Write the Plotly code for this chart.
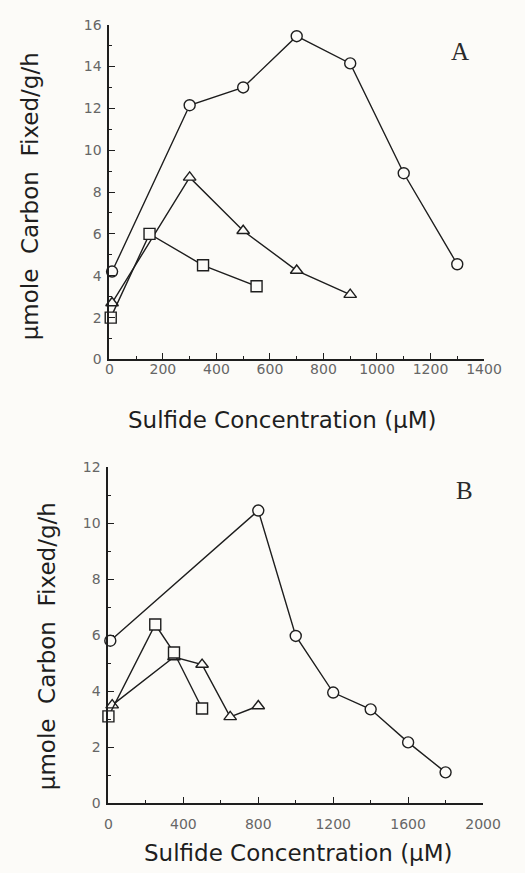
import plotly.graph_objects as go

W, H = 525, 873

# ---------------- Panel A data ----------------
a_circle_x = [10, 300, 500, 700, 900, 1100, 1300]
a_circle_y = [4.2, 12.15, 13.0, 15.45, 14.15, 8.9, 4.55]
a_tri_x = [10, 300, 500, 700, 900]
a_tri_y = [2.7, 8.7, 6.15, 4.25, 3.1]
a_sq_x = [5, 150, 350, 550]
a_sq_y = [2.0, 6.0, 4.5, 3.5]

# ---------------- Panel B data ----------------
b_circle_x = [10, 800, 1000, 1200, 1400, 1600, 1800]
b_circle_y = [5.8, 10.45, 5.97, 3.95, 3.35, 2.17, 1.1]
b_tri_x = [20, 350, 500, 650, 800]
b_tri_y = [3.5, 5.22, 4.95, 3.08, 3.47]
b_sq_x = [0, 250, 350, 500]
b_sq_y = [3.1, 6.38, 5.38, 3.38]

# ---------------- Ticks ----------------
a_xtick_vals = [0, 200, 400, 600, 800, 1000, 1200, 1400]
a_xtick_text = ["0", "200", "400", "600", "800", "1000", "1200", "1400"]
a_ytick_vals = [0, 2, 4, 6, 8, 10, 12, 14, 16]
a_ytick_text = ["0", "2", "4", "6", "8", "10", "12", "14", "16"]
b_xtick_vals = [0, 400, 800, 1200, 1600, 2000]
b_xtick_text = ["0", "400", "800", "1200", "1600", "2000"]
b_ytick_vals = [0, 2, 4, 6, 8, 10, 12]
b_ytick_text = ["0", "2", "4", "6", "8", "10", "12"]

y_title = "μmole\u00a0 Carbon\u00a0 Fixed/g/h"
x_title = "Sulfide Concentration (μM)"

BG = "#fcfbf8"
INK = "#1e1e1e"
LINE_W = 1.4


def px(x):
    return x / W


def py(y):
    return 1 - y / H


fig = go.Figure()


def add_series(x, y, symbol, xa, ya):
    fig.add_trace(go.Scatter(
        x=x, y=y, mode="lines+markers", xaxis=xa, yaxis=ya,
        line=dict(color=INK, width=LINE_W),
        marker=dict(symbol=symbol, size=11, color=BG,
                    line=dict(color=INK, width=1.4)),
        cliponaxis=False, showlegend=False, hoverinfo="x+y"))


add_series(a_circle_x, a_circle_y, "circle", "x", "y")
add_series(a_tri_x, a_tri_y, "triangle-up", "x", "y")
add_series(a_sq_x, a_sq_y, "square", "x", "y")
add_series(b_circle_x, b_circle_y, "circle", "x2", "y2")
add_series(b_tri_x, b_tri_y, "triangle-up", "x2", "y2")
add_series(b_sq_x, b_sq_y, "square", "x2", "y2")

tick_font = dict(family="DejaVu Sans", size=14, color="#666666")


def xaxis_cfg(domain, rng, vals, text, minor_dtick, standoff):
    return dict(domain=domain, range=rng, tickmode="array", tickvals=vals,
                ticktext=text, ticks="inside", ticklen=6, tickwidth=1.2,
                tickcolor=INK, showline=True, linecolor=INK, linewidth=2,
                showgrid=False, zeroline=False, tickfont=tick_font,
                ticklabelstandoff=standoff,
                minor=dict(ticks="inside", dtick=minor_dtick, ticklen=3,
                           tickwidth=1.1, tickcolor=INK, showgrid=False))


def yaxis_cfg(domain, rng, vals, text, anchor):
    return dict(domain=domain, range=rng, tickmode="array", tickvals=vals,
                ticktext=text, ticks="inside", ticklen=6, tickwidth=1.2,
                tickcolor=INK, showline=True, linecolor=INK, linewidth=2,
                showgrid=False, zeroline=False, tickfont=tick_font,
                anchor=anchor, ticklabelstandoff=3,
                minor=dict(ticks="inside", dtick=1, ticklen=3,
                           tickwidth=1.1, tickcolor=INK, showgrid=False))


fig.update_layout(
    width=W, height=H, margin=dict(l=0, r=0, t=0, b=0),
    paper_bgcolor=BG, plot_bgcolor=BG,
    xaxis=dict(**xaxis_cfg([px(110), px(501)], [0, 1400], a_xtick_vals,
                           a_xtick_text, 100, -4), anchor="y"),
    yaxis=yaxis_cfg([py(358), py(17)], [0, 16], a_ytick_vals, a_ytick_text, "x"),
    xaxis2=dict(**xaxis_cfg([px(109), px(500)], [0, 2000], b_xtick_vals,
                            b_xtick_text, 200, 7), anchor="y2"),
    yaxis2=yaxis_cfg([py(810), py(467.7)], [0, 12], b_ytick_vals, b_ytick_text, "x2"),
)

title_font = dict(family="DejaVu Sans", size=23, color=INK)
letter_font = dict(family="Liberation Serif", size=25, color="#2a2a2a")

annots = [
    dict(text=y_title, x=px(28), y=py(192), textangle=-90, font=title_font),
    dict(text=y_title, x=px(45), y=py(650), textangle=-90, font=title_font),
    dict(text=x_title, x=px(291), y=py(420), font=title_font),
    dict(text=x_title, x=px(307), y=py(861), font=title_font),
    dict(text="A", x=px(476), y=py(44), font=letter_font),
    dict(text="B", x=px(481), y=py(492), font=letter_font),
]
for a in annots:
    fig.add_annotation(xref="paper", yref="paper", showarrow=False,
                       xanchor="center", yanchor="middle", **a)

fig.write_html("out.html")
